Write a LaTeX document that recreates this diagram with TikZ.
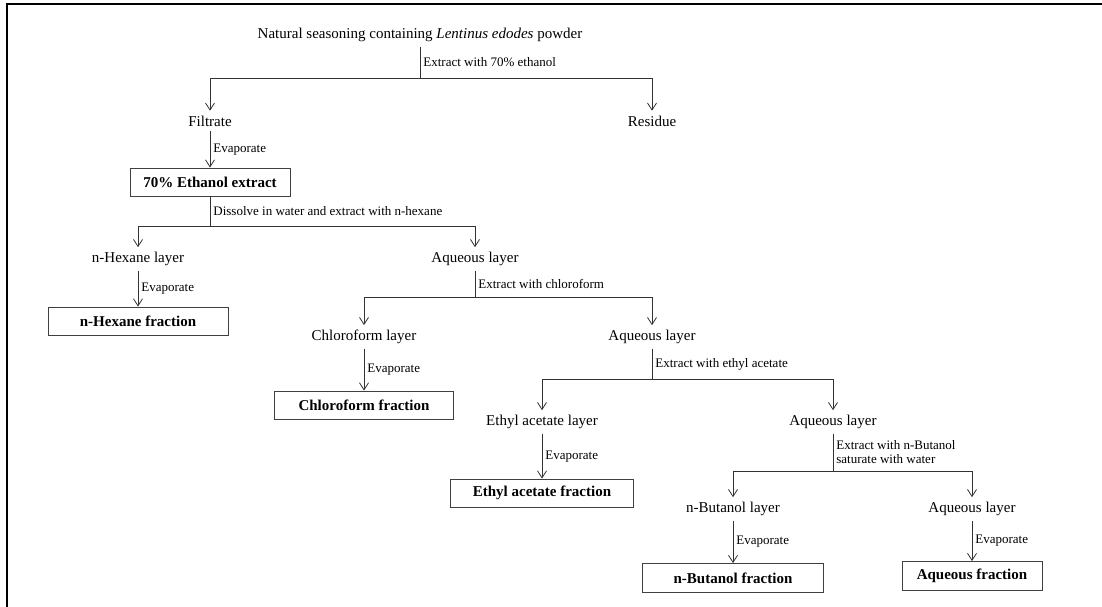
\documentclass[tikz,border=0pt]{standalone}
\usepackage{fontspec}
\setmainfont{Liberation Serif}
\usetikzlibrary{arrows.meta}
\tikzset{
  stage/.style={inner sep=0pt, outer ysep=5pt, font=\fontsize{15}{17}\selectfont},
  fracbox/.style={draw=black!75, line width=0.9pt, minimum height=28pt, inner sep=0pt, font=\fontsize{15}{17}\selectfont\bfseries},
  oplabel/.style={right, inner sep=3pt, align=left, font=\fontsize{13}{14}\selectfont},
  flow/.style={draw=black!80, line width=0.8pt},
  flowarrow/.style={flow, -{Straight Barb[length=7pt,width=9pt]}},
}
\begin{document}
\begin{tikzpicture}[x=1pt,y=-1pt]
\useasboundingbox (0,0) rectangle (1102,607);
% frame
\draw[line width=2.5pt] (7,607) -- (7,4) -- (1102,4);
% stages
\node[stage] (seasoning) at (420,35) {Natural seasoning containing \textit{Lentinus edodes} powder};
\node[stage] (filtrate) at (210,121) {Filtrate};
\node[stage] (residue) at (652,121) {Residue};
\node[fracbox, minimum width=160pt] (ethext) at (210,182) {70\% Ethanol extract};
\node[stage] (hexlayer) at (138,259) {n-Hexane layer};
\node[stage] (aqueousA) at (475,259) {Aqueous layer};
\node[fracbox, minimum width=180pt] (hexfrac) at (138,321) {n-Hexane fraction};
\node[stage] (chlorolayer) at (364,337) {Chloroform layer};
\node[stage] (aqueousB) at (652,337) {Aqueous layer};
\node[fracbox, minimum width=179pt] (chlorofrac) at (364,405) {Chloroform fraction};
\node[stage] (ethyllayer) at (542,422) {Ethyl acetate layer};
\node[stage] (aqueousC) at (833,422) {Aqueous layer};
\node[fracbox, minimum width=183pt] (ethylfrac) at (542,493) {Ethyl acetate fraction};
\node[stage] (butlayer) at (733,509) {n-Butanol layer};
\node[stage] (aqueousD) at (972,509) {Aqueous layer};
\node[fracbox, minimum width=181pt, minimum height=29pt] (butfrac) at (733,578) {n-Butanol fraction};
\node[fracbox, minimum width=140pt, minimum height=29pt] (aqfrac) at (972,576) {Aqueous fraction};
% split points
\coordinate (splitA) at (420,78);
\coordinate (splitB) at (210,226);
\coordinate (splitC) at (475,297);
\coordinate (splitD) at (652,379);
\coordinate (splitE) at (833,471);
% connectors
\draw[flow] (seasoning) -- node[oplabel]{Extract with 70\% ethanol} (splitA);
\draw[flowarrow] (splitA) -| (filtrate);
\draw[flowarrow] (splitA) -| (residue);
\draw[flowarrow] (filtrate) -- node[oplabel]{Evaporate} (ethext);
\draw[flow] (ethext) -- node[oplabel]{Dissolve in water and extract with n-hexane} (splitB);
\draw[flowarrow] (splitB) -| (hexlayer);
\draw[flowarrow] (splitB) -| (aqueousA);
\draw[flowarrow] (hexlayer) -- node[oplabel]{Evaporate} (hexfrac);
\draw[flow] (aqueousA) -- node[oplabel]{Extract with chloroform} (splitC);
\draw[flowarrow] (splitC) -| (chlorolayer);
\draw[flowarrow] (splitC) -| (aqueousB);
\draw[flowarrow] (chlorolayer) -- node[oplabel]{Evaporate} (chlorofrac);
\draw[flow] (aqueousB) -- node[oplabel]{Extract with ethyl acetate} (splitD);
\draw[flowarrow] (splitD) -| (ethyllayer);
\draw[flowarrow] (splitD) -| (aqueousC);
\draw[flowarrow] (ethyllayer) -- node[oplabel]{Evaporate} (ethylfrac);
\draw[flow] (aqueousC) -- node[oplabel]{Extract with n-Butanol\\saturate with water} (splitE);
\draw[flowarrow] (splitE) -| (butlayer);
\draw[flowarrow] (splitE) -| (aqueousD);
\draw[flowarrow] (butlayer) -- node[oplabel]{Evaporate} (butfrac);
\draw[flowarrow] (aqueousD) -- node[oplabel]{Evaporate} (aqfrac);
\end{tikzpicture}
\end{document}
